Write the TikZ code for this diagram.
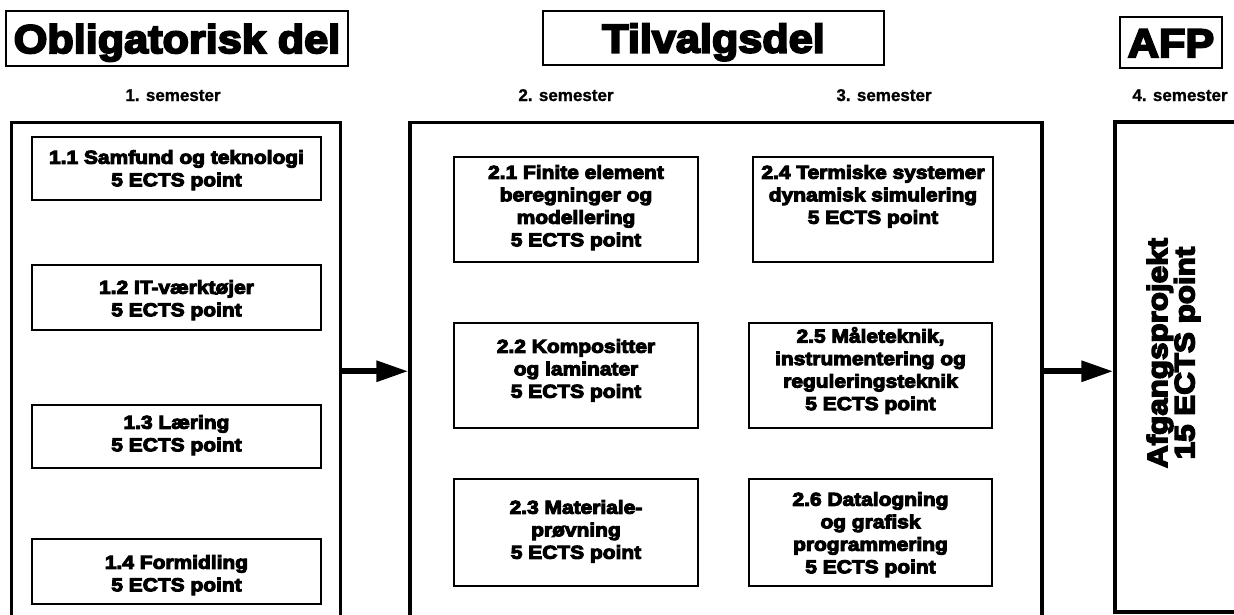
\documentclass[tikz,border=0pt]{standalone}
\usepackage{fontspec}
\usetikzlibrary{arrows.meta}
% heavy sans faces for headings and course boxes
\newfontfamily\heavyfont{Liberation Sans Bold}[FakeStretch=1.12,FakeBold=5.5]
\newfontfamily\titlefont{Liberation Sans Bold}[FakeStretch=1.08,FakeBold=5]
\newfontfamily\labelfont{Liberation Sans Bold}[FakeBold=1]
\begin{document}
\begin{tikzpicture}[x=1pt,y=-1pt,
  titlebox/.style={draw, line width=1.8pt, inner sep=0pt,
    font=\titlefont\fontsize{40}{44}\selectfont, text height=29pt, text depth=0pt},
  semlabel/.style={inner sep=0pt, font=\labelfont\fontsize{17}{20}\selectfont,
    text height=12pt, text depth=0pt},
  panel/.style={draw, line width=3.3pt, inner sep=0pt},
  course/.style={draw, line width=2pt, inner sep=0pt},
  coursetext/.style={inner sep=0pt, align=center, anchor=north,
    font=\heavyfont\fontsize{18.7}{22.5}\selectfont},
  flow/.style={line width=6pt, -{Triangle[length=32pt,width=20pt]}}
]
\useasboundingbox (0,0) rectangle (1234,614);
\clip (0,0) rectangle (1234,614);

% headings
\node[titlebox, minimum width=342pt, minimum height=55pt] (tOblig) at (177,38.5) {Obligatorisk del};
\node[titlebox, minimum width=341pt, minimum height=54pt] (tTilv) at (713.5,38) {Tilvalgsdel};
\node[titlebox, minimum width=102pt, minimum height=51pt] (tAfp) at (1171,42.5) {AFP};

% semester labels
\node[semlabel] (s1) at (173,95) {1. semester};
\node[semlabel] (s2) at (566,95) {2. semester};
\node[semlabel] (s3) at (884,95) {3. semester};
\node[semlabel] (s4) at (1180,95) {4. semester};

% large panels
\node[panel, minimum width=329pt, minimum height=497.5pt] (oblig) at (176,371.25) {};
\node[panel, minimum width=632pt, minimum height=497.5pt] (tilvalg) at (726,371.25) {};
\node[panel, minimum width=145pt, minimum height=490pt] (afp) at (1187.5,367) {};

% compulsory courses
\node[course, minimum width=289pt, minimum height=63pt] (c11) at (176.5,168.5) {};
\node[coursetext] (t11) at ([yshift=-14pt]c11.north) {1.1 Samfund og teknologi\\5 ECTS point};
\node[course, minimum width=289pt, minimum height=65pt] (c12) at (176.5,297.5) {};
\node[coursetext] (t12) at ([yshift=-16pt]c12.north) {1.2 IT-værktøjer\\5 ECTS point};
\node[course, minimum width=289pt, minimum height=63pt] (c13) at (176.5,436.5) {};
\node[coursetext] (t13) at ([yshift=-11pt]c13.north) {1.3 Læring\\5 ECTS point};
\node[course, minimum width=289pt, minimum height=65pt] (c14) at (176.5,571.5) {};
\node[coursetext] (t14) at ([yshift=-17pt]c14.north) {1.4 Formidling\\5 ECTS point};

% elective courses, first column
\node[course, minimum width=244pt, minimum height=105pt] (c21) at (576,209.5) {};
\node[coursetext] (t21) at ([yshift=-9pt]c21.north) {2.1 Finite element\\beregninger og\\modellering\\5 ECTS point};
\node[course, minimum width=244pt, minimum height=105pt] (c22) at (576,375.5) {};
\node[coursetext] (t22) at ([yshift=-17pt]c22.north) {2.2 Kompositter\\og laminater\\5 ECTS point};
\node[course, minimum width=244pt, minimum height=107pt] (c23) at (576,532.5) {};
\node[coursetext] (t23) at ([yshift=-22pt]c23.north) {2.3 Materiale-\\prøvning\\5 ECTS point};

% elective courses, second column
\node[course, minimum width=240pt, minimum height=105pt] (c24) at (873,209.5) {};
\node[coursetext] (t24) at ([yshift=-9pt]c24.north) {2.4 Termiske systemer\\dynamisk simulering\\5 ECTS point};
\node[course, minimum width=243pt, minimum height=105pt] (c25) at (870.5,375.5) {};
\node[coursetext] (t25) at ([yshift=-5pt]c25.north) {2.5 Måleteknik,\\instrumentering og\\reguleringsteknik\\5 ECTS point};
\node[course, minimum width=243pt, minimum height=107pt] (c26) at (870.5,532.5) {};
\node[coursetext] (t26) at ([yshift=-14pt]c26.north) {2.6 Datalogning\\og grafisk\\programmering\\5 ECTS point};

% final project
\node[rotate=90, inner sep=0pt, align=center,
  font=\heavyfont\fontsize{28}{26}\selectfont] (afptext) at (1173.5,353) {Afgangsprojekt\\15 ECTS point};

% flow between parts
\draw[flow] (oblig.east) -- (tilvalg.west);
\draw[flow] (tilvalg.east) -- (tilvalg.east -| afp.west);
\end{tikzpicture}
\end{document}
